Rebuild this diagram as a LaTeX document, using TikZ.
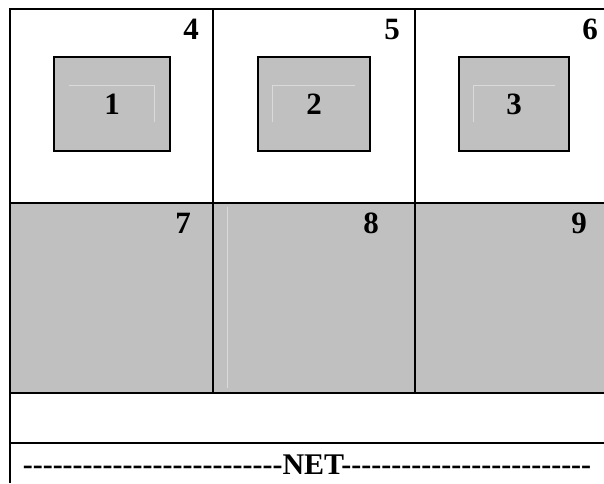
\documentclass[tikz,border=0pt]{standalone}
\usepackage{fontspec}
\setmainfont{Liberation Serif}
\usepackage{xcolor}
\usepackage{tikz}
\usetikzlibrary{positioning}
\definecolor{cellgray}{HTML}{C0C0C0}
\definecolor{ghostline}{HTML}{DADADA}

\newcommand\dashrun[1]{\foreach \k in {1,...,#1}{-{}}}

\tikzset{
  gridline/.style={line width=2pt},
  chipbox/.style={draw, fill=cellgray, line width=2pt, minimum height=94pt, inner sep=0pt,
    font=\bfseries\fontsize{31}{31}\selectfont},
  cellnum/.style={anchor=north east, inner sep=0pt, font=\bfseries\fontsize{31}{31}\selectfont},
  ghost/.style={draw=ghostline, line width=0.8pt},
}

\begin{document}
\begin{tikzpicture}[x=1pt, y=-1pt]
  \useasboundingbox (0,0) rectangle (604,483);
  \fill[cellgray] (10,203) rectangle (604,393);

  % table rules
  \draw[gridline] (604,9) -- (10,9) -- (10,483);
  \draw[gridline] (213,9) -- (213,393);
  \draw[gridline] (415,9) -- (415,393);
  \draw[gridline] (10,203) -- (604,203);
  \draw[gridline] (10,393) -- (604,393);
  \draw[gridline] (10,443) -- (604,443);

  % inner boxes
  \node[chipbox, minimum width=116pt] (chip1) at (112,104) {1};
  \node[chipbox, minimum width=112pt] (chip2) at (314,104) {2};
  \node[chipbox, minimum width=110pt] (chip3) at (514,104) {3};
  \draw[ghost] (69,85) -- (154,85) -- (154,122);
  \draw[ghost] (355,85) -- (272,85) -- (272,122);
  \draw[ghost] (555,85) -- (473,85) -- (473,122);
  \draw[ghost] (227,207) -- (227,388);

  % cell numbers
  \node[cellnum] (c4) at (199,19) {4};
  \node[cellnum] (c5) at (400,19) {5};
  \node[cellnum] (c6) at (598,19) {6};
  \node[cellnum] (c7) at (191,213) {7};
  \node[cellnum] (c8) at (379,213) {8};
  \node[cellnum] (c9) at (587,213) {9};

  \node[inner sep=0pt, font=\bfseries\fontsize{30}{30}\selectfont] (net) at (307,465)
    {\dashrun{26}NET\dashrun{25}};
\end{tikzpicture}
\end{document}
